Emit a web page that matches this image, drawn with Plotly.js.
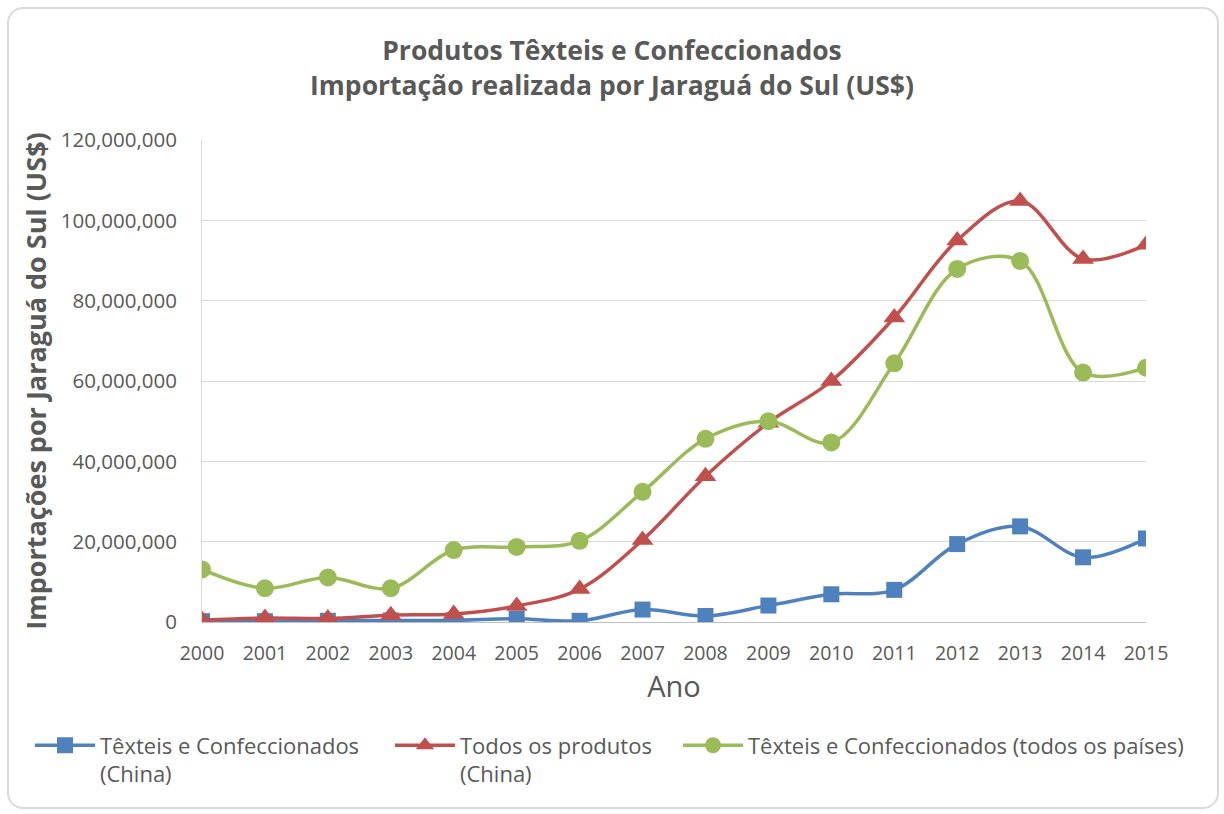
<!DOCTYPE html>
<html><head><meta charset="utf-8">
<script src="https://cdn.plot.ly/plotly-3.0.1.min.js"></script>
<style>
html,body{margin:0;padding:0;background:#fff;}
#wrap{position:relative;width:1224px;height:814px;}
#chart{width:1224px;height:814px;}
#frame{position:absolute;left:7px;top:7px;width:1208px;height:798px;border:2px solid #d9d9d9;border-radius:16px;pointer-events:none;}
</style></head>
<body>
<div id="wrap"><div id="chart"></div><div id="frame"></div></div>
<script>
const years = [2000,2001,2002,2003,2004,2005,2006,2007,2008,2009,2010,2011,2012,2013,2014,2015];
const textilesChina = [200000,200000,300000,400000,400000,800000,300000,3100000,1500000,4100000,6900000,8000000,19400000,23800000,16100000,20800000];
const allProductsChina = [500000,1000000,900000,1700000,2000000,4000000,8200000,20400000,36300000,49600000,60000000,75800000,95000000,104800000,90400000,93900000];
const textilesAll = [13100000,8400000,11100000,8400000,17900000,18700000,20200000,32400000,45600000,50000000,44700000,64400000,87900000,89900000,62100000,63300000];
const seriesNames = ['Têxteis e Confeccionados<br>(China)','Todos os produtos<br>(China)','Têxteis e Confeccionados (todos os países)'];
const titleText = '<b>Produtos Têxteis e Confeccionados</b><br><b>Importação realizada por Jaraguá do Sul (US$)</b>';
const xTitle = 'Ano';
const yTitle = '<b>Importações por Jaraguá do Sul (US$)</b>';

const FONT = 'Open Sans, Noto Sans, sans-serif';
const GRAY = '#595959';
function tr(y, name, color, symbol, size, leg){
  return {x: years, y: y, name: name, type:'scatter', mode:'lines+markers', legend: leg,
    line:{color:color, width:3.5, shape:'spline', smoothing:1},
    marker:{color:color, symbol:symbol, size:size}};
}
const data = [
  tr(textilesChina, seriesNames[0], '#4F81BD', 'square', 16, 'legend'),
  tr(allProductsChina, seriesNames[1], '#C0504D', 'triangle-up', 19, 'legend2'),
  tr(textilesAll, seriesNames[2], '#9BBB59', 'circle', 18, 'legend3')
];
function leg(x){
  return {orientation:'h', x:x, xref:'container', xanchor:'left', y:0.110, yref:'container', yanchor:'top',
    font:{size:22, color:GRAY}, valign:'top', itemwidth:60, bgcolor:'rgba(0,0,0,0)'};
}
const layout = {
  width:1224, height:814,
  margin:{l:202, r:78, t:140, b:192},
  paper_bgcolor:'#fff', plot_bgcolor:'#fff',
  font:{family:FONT, color:GRAY, size:18},
  title:{text:titleText, font:{family:FONT, size:26.5, color:GRAY}, x:0.5, xref:'container', xanchor:'center', yref:'container', y:0.926, yanchor:'middle'},
  xaxis:{range:[2000,2015], tickvals:years, ticktext:years.map(String), showgrid:false, zeroline:false,
    showline:true, linecolor:'#bfbfbf', linewidth:1, ticks:'', ticklabelstandoff:14,
    tickfont:{size:19.5, color:GRAY},
    title:{text:xTitle, font:{size:29, color:GRAY}, standoff:6}},
  yaxis:{range:[0,120000000], dtick:20000000, tickformat:',d', showgrid:true, gridcolor:'#d9d9d9', gridwidth:1,
    zeroline:false, showline:true, linecolor:'#d9d9d9', linewidth:1, ticks:'', ticklabelstandoff:20,
    tickfont:{size:20.5, color:GRAY},
    title:{text:yTitle, font:{size:27, color:GRAY}, standoff:6}},
  legend: leg(30/1224),
  legend2: leg(390/1224),
  legend3: leg(678/1224),
  showlegend:true
};
Plotly.newPlot('chart', data, layout, {displayModeBar:false, staticPlot:true});
</script>
</body></html>
